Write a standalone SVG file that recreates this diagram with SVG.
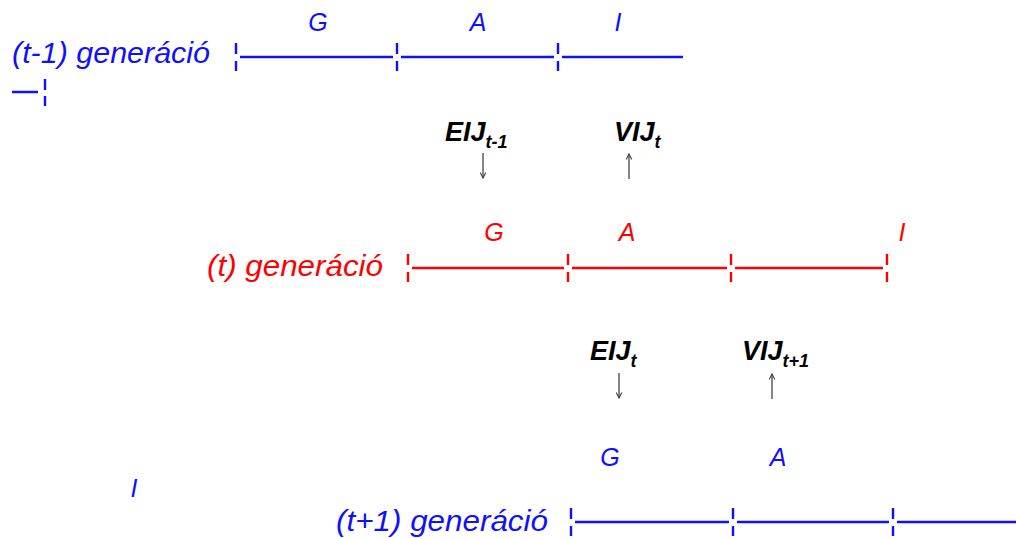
<svg xmlns="http://www.w3.org/2000/svg" width="1016" height="539" viewBox="0 0 1016 539">
<defs>
<style>
.lbl{font-family:"Liberation Sans",Arial,sans-serif;font-style:italic;font-size:29px}
.ph{font-family:"Liberation Sans",Arial,sans-serif;font-style:italic;font-size:25px;text-anchor:middle}
.ij{font-family:"Liberation Sans",Arial,sans-serif;font-style:italic;font-weight:bold;font-size:27px;fill:#000}
.sub{font-size:18px}
.blue{fill:#1010ff}
.red{fill:#ff0000}
.lb{stroke:#1010ff;stroke-width:2.4;fill:none}
.lr{stroke:#ff0000;stroke-width:2.4;fill:none}
.arr{stroke:#444;stroke-width:1.3;fill:none}
</style>
<marker id="ah" viewBox="0 0 10 10" refX="9" refY="5" markerWidth="7" markerHeight="7" orient="auto" markerUnits="userSpaceOnUse">
<path d="M1,1 L9,5 L1,9" fill="none" stroke="#444" stroke-width="1.6"/>
</marker>
</defs>
<rect width="1016" height="539" fill="#fff"/>

<g id="gen-t-1">
<text class="lbl blue" x="12" y="63" textLength="198" lengthAdjust="spacingAndGlyphs">(t-1) generáció</text>
<path class="lb" d="M236,43v11M236,61v10M397,43v11M397,61v10M558,43v11M558,61v10M240,57H393M401,57H554M562,57H683"/>
<path class="lb" d="M12,92H38M45,79v11M45,96v10"/>
<text class="ph blue" x="318" y="31">G</text>
<text class="ph blue" x="478" y="31">A</text>
<text class="ph blue" x="618" y="31">I</text>
</g>

<g id="gen-t">
<text class="lbl red" x="207" y="276" textLength="176" lengthAdjust="spacingAndGlyphs">(t) generáció</text>
<path class="lr" d="M408,254v11M408,272v10M568,254v11M568,272v10M731,254v11M731,272v10M887,254v11M887,272v10M412,268H564M572,268H727M735,268H883"/>
<text class="ph red" x="494" y="241">G</text>
<text class="ph red" x="627" y="241">A</text>
<text class="ph red" x="902" y="241">I</text>
</g>

<g id="gen-t1">
<text class="lbl blue" x="336" y="531" textLength="212" lengthAdjust="spacingAndGlyphs">(t+1) generáció</text>
<path class="lb" d="M571,508v11M571,526v10M733,508v11M733,526v10M893,508v11M893,526v10M575,522H729M737,522H889M897,522H1016"/>
<text class="ph blue" x="610" y="466">G</text>
<text class="ph blue" x="778" y="466">A</text>
<text class="ph blue" x="134" y="497">I</text>
</g>

<g id="eij-t-1"><text class="ij" x="445" y="141">EIJ<tspan class="sub" dy="7">t-1</tspan></text></g>
<g id="vij-t"><text class="ij" x="614" y="141">VIJ<tspan class="sub" dy="7">t</tspan></text></g>
<g id="eij-t"><text class="ij" x="590" y="360">EIJ<tspan class="sub" dy="7">t</tspan></text></g>
<g id="vij-t1"><text class="ij" x="742" y="360">VIJ<tspan class="sub" dy="7">t+1</tspan></text></g>

<g id="connectors">
<line class="arr" x1="483" y1="153" x2="483" y2="178" marker-end="url(#ah)"/>
<line class="arr" x1="629" y1="179" x2="629" y2="154" marker-end="url(#ah)"/>
<line class="arr" x1="619" y1="373" x2="619" y2="398" marker-end="url(#ah)"/>
<line class="arr" x1="772" y1="399" x2="772" y2="374" marker-end="url(#ah)"/>
</g>
</svg>
